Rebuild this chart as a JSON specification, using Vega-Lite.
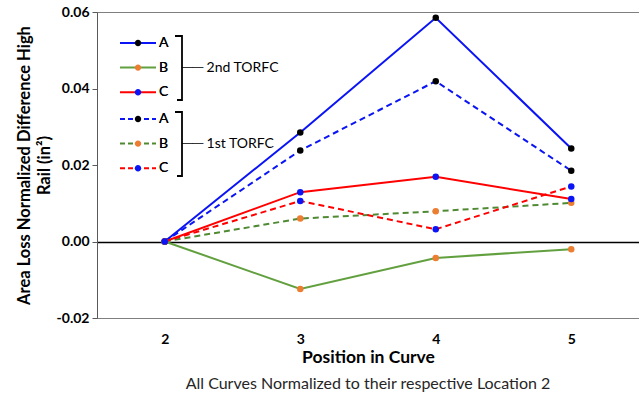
{
  "$schema": "https://vega.github.io/schema/vega-lite/v6.json",
  "width": 542,
  "height": 306,
  "autosize": {"type": "none"},
  "padding": {"left": 97, "top": 12, "right": 0, "bottom": 78},
  "background": "white",
  "config": {
    "font": "Lato",
    "view": {"stroke": "#7f7f7f", "strokeWidth": 1}
  },
  "title": {
    "text": "All Curves Normalized to their respective Location 2",
    "orient": "bottom",
    "anchor": "middle",
    "frame": "group",
    "font": "Lato",
    "fontSize": 16,
    "fontWeight": "normal",
    "color": "#262626",
    "offset": 10
  },
  "data": {
    "values": [
      {"pos": 2, "value": 0, "series": "A", "torfc": "2nd"},
      {"pos": 3, "value": 0.0285, "series": "A", "torfc": "2nd"},
      {"pos": 4, "value": 0.0585, "series": "A", "torfc": "2nd"},
      {"pos": 5, "value": 0.0243, "series": "A", "torfc": "2nd"},
      {"pos": 2, "value": 0, "series": "B", "torfc": "2nd"},
      {"pos": 3, "value": -0.0124, "series": "B", "torfc": "2nd"},
      {"pos": 4, "value": -0.0043, "series": "B", "torfc": "2nd"},
      {"pos": 5, "value": -0.002, "series": "B", "torfc": "2nd"},
      {"pos": 2, "value": 0, "series": "C", "torfc": "2nd"},
      {"pos": 3, "value": 0.0129, "series": "C", "torfc": "2nd"},
      {"pos": 4, "value": 0.0169, "series": "C", "torfc": "2nd"},
      {"pos": 5, "value": 0.0111, "series": "C", "torfc": "2nd"},
      {"pos": 2, "value": 0, "series": "A", "torfc": "1st"},
      {"pos": 3, "value": 0.0238, "series": "A", "torfc": "1st"},
      {"pos": 4, "value": 0.0419, "series": "A", "torfc": "1st"},
      {"pos": 5, "value": 0.0185, "series": "A", "torfc": "1st"},
      {"pos": 2, "value": 0, "series": "B", "torfc": "1st"},
      {"pos": 3, "value": 0.006, "series": "B", "torfc": "1st"},
      {"pos": 4, "value": 0.0079, "series": "B", "torfc": "1st"},
      {"pos": 5, "value": 0.0101, "series": "B", "torfc": "1st"},
      {"pos": 2, "value": 0, "series": "C", "torfc": "1st"},
      {"pos": 3, "value": 0.0106, "series": "C", "torfc": "1st"},
      {"pos": 4, "value": 0.0032, "series": "C", "torfc": "1st"},
      {"pos": 5, "value": 0.0144, "series": "C", "torfc": "1st"}
    ]
  },
  "encoding": {
    "x": {
      "field": "pos",
      "type": "quantitative",
      "scale": {"domain": [1.5, 5.5], "nice": false, "zero": false},
      "axis": {
        "title": "Position in Curve",
        "values": [2, 3, 4, 5],
        "format": "d",
        "ticks": false,
        "domain": false,
        "grid": false,
        "labelFont": "Lato",
        "labelFontSize": 14,
        "labelFontWeight": "bold",
        "labelColor": "#000000",
        "labelPadding": 14,
        "titleFont": "Lato",
        "titleFontSize": 17.5,
        "titleFontWeight": "bold",
        "titleColor": "#000000",
        "titlePadding": 2
      }
    },
    "y": {
      "field": "value",
      "type": "quantitative",
      "scale": {"domain": [-0.02, 0.06], "nice": false, "zero": false},
      "axis": {
        "title": ["Area Loss Normalized Difference High", "Rail (in²)"],
        "values": [-0.02, 0, 0.02, 0.04, 0.06],
        "labelExpr": "datum.value < 0 ? '-' + format(-datum.value, '.2f') : format(datum.value, '.2f')",
        "grid": true,
        "gridColor": {"condition": {"test": "datum.value === 0", "value": "#000000"}, "value": "transparent"},
        "gridWidth": 1.6,
        "domainColor": "#595959",
        "tickColor": "#595959",
        "tickSize": 5,
        "labelFont": "Lato",
        "labelFontSize": 14,
        "labelFontWeight": "bold",
        "labelColor": "#000000",
        "labelPadding": 3,
        "titleFont": "Lato",
        "titleFontSize": 16.5,
        "titleFontWeight": "bold",
        "titleColor": "#000000",
        "titlePadding": 4,
        "titleLineHeight": 20
      }
    }
  },
  "layer": [
    {
      "transform": [{"filter": "datum.torfc === '2nd'"}],
      "mark": {"type": "line", "strokeWidth": 2},
      "encoding": {
        "detail": {"field": "series"},
        "color": {
          "field": "series",
          "type": "nominal",
          "scale": {"domain": ["A", "B", "C"], "range": ["#0a14f5", "#62a03f", "#ff0000"]},
          "legend": {
            "orient": "none",
            "legendX": 23,
            "legendY": 24,
            "title": null,
            "padding": 0,
            "symbolType": "M-4.5,0H4.5",
            "symbolSize": 64,
            "symbolStrokeWidth": 2,
            "symbolOffset": 11,
            "labelOffset": 14,
            "labelFont": "Lato",
            "labelFontSize": 14,
            "labelColor": "#000000",
            "rowPadding": 10.6,
            "labelExpr": "datum.label + '\u00a0\u2800'",
            "strokeColor": "#000000",
            "encode": {"legend": {"update": {"strokeDash": {"value": [0, 55, 76, 2000]}, "strokeWidth": {"value": 1.8}}}}
          }
        }
      }
    },
    {
      "transform": [{"filter": "datum.torfc === '1st'"}],
      "mark": {"type": "line", "strokeWidth": 2, "strokeDash": [6, 4]},
      "encoding": {
        "detail": {"field": "series"},
        "color": {
          "field": "series",
          "type": "nominal",
          "scale": {"domain": ["A", "B", "C"], "range": ["#0a14f5", "#4f8a33", "#ff0000"]},
          "legend": {
            "orient": "none",
            "legendX": 23,
            "legendY": 100,
            "title": null,
            "padding": 0,
            "symbolType": "M-4.5,0H4.5",
            "symbolSize": 64,
            "symbolStrokeWidth": 2,
            "symbolDash": [5, 3],
            "symbolOffset": 11,
            "labelOffset": 14,
            "labelFont": "Lato",
            "labelFontSize": 14,
            "labelColor": "#000000",
            "rowPadding": 10.6,
            "labelExpr": "datum.label + '\u00a0\u2800'",
            "strokeColor": "#000000",
            "encode": {"legend": {"update": {"strokeDash": {"value": [0, 55, 76, 2000]}, "strokeWidth": {"value": 1.8}}}}
          }
        }
      }
    },
    {
      "transform": [{"filter": "datum.torfc === '1st'"}],
      "mark": {"type": "point", "filled": true, "size": 42, "opacity": 1, "strokeWidth": 0},
      "encoding": {
        "fill": {
          "field": "series",
          "type": "nominal",
          "scale": {"domain": ["A", "B", "C"], "range": ["#000000", "#ed7d31", "#0a14f5"]},
          "legend": {
            "orient": "none",
            "legendX": 23,
            "legendY": 100,
            "title": "── 1st TORFC",
            "titleOrient": "right",
            "titleAnchor": "middle",
            "titleBaseline": "middle",
            "titleFont": "Lato",
            "titleFontSize": 14,
            "titleFontWeight": "normal",
            "titleColor": "#000000",
            "titlePadding": 0,
            "padding": 0,
            "symbolType": "M-0.8,0A0.8,0.8,0,1,1,0.8,0A0.8,0.8,0,1,1,-0.8,0Z",
            "symbolSize": 64,
            "symbolStrokeWidth": 0,
            "symbolOffset": 11,
            "labelOffset": 14,
            "labelFont": "Lato",
            "labelFontSize": 14,
            "labelColor": "#000000",
            "rowPadding": 10.6,
            "labelExpr": "datum.label + '\u00a0\u2800'"
          }
        }
      }
    },
    {
      "transform": [{"filter": "datum.torfc === '2nd'"}],
      "mark": {"type": "point", "filled": true, "size": 42, "opacity": 1, "strokeWidth": 0},
      "encoding": {
        "fill": {
          "field": "series",
          "type": "nominal",
          "scale": {"domain": ["A", "B", "C"], "range": ["#000000", "#ed7d31", "#0a14f5"]},
          "legend": {
            "orient": "none",
            "legendX": 23,
            "legendY": 24,
            "title": "── 2nd TORFC",
            "titleOrient": "right",
            "titleAnchor": "middle",
            "titleBaseline": "middle",
            "titleFont": "Lato",
            "titleFontSize": 14,
            "titleFontWeight": "normal",
            "titleColor": "#000000",
            "titlePadding": 0,
            "padding": 0,
            "symbolType": "M-0.8,0A0.8,0.8,0,1,1,0.8,0A0.8,0.8,0,1,1,-0.8,0Z",
            "symbolSize": 64,
            "symbolStrokeWidth": 0,
            "symbolOffset": 11,
            "labelOffset": 14,
            "labelFont": "Lato",
            "labelFontSize": 14,
            "labelColor": "#000000",
            "rowPadding": 10.6,
            "labelExpr": "datum.label + '\u00a0\u2800'"
          }
        }
      }
    }
  ],
  "resolve": {"scale": {"color": "independent", "fill": "independent"}}
}
